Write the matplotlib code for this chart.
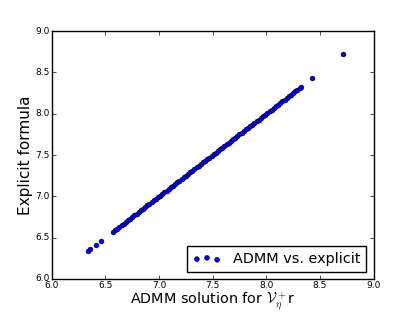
import matplotlib
matplotlib.use('Agg')
import matplotlib.pyplot as plt
import numpy as np

# values (points lie on y = x)
admm_low = [6.34, 6.36, 6.41, 6.46]
admm_dense = [6.57, 6.59, 6.61, 6.63, 6.65, 6.67, 6.69, 6.71, 6.73, 6.75,
              6.77, 6.79, 6.81, 6.83, 6.85, 6.87, 6.89, 6.91, 6.93, 6.95,
              6.97, 6.99, 7.01, 7.03, 7.05, 7.07, 7.09, 7.11, 7.13, 7.15,
              7.17, 7.19, 7.21, 7.23, 7.25, 7.27, 7.29, 7.31, 7.33, 7.35,
              7.37, 7.39, 7.41, 7.43, 7.45, 7.47, 7.49, 7.51, 7.53, 7.55,
              7.57, 7.59, 7.61, 7.63, 7.65, 7.67, 7.69, 7.71, 7.73, 7.75,
              7.77, 7.79, 7.81, 7.83, 7.85, 7.87, 7.89, 7.91, 7.93, 7.95,
              7.97, 7.99, 8.01, 8.03, 8.05, 8.07, 8.09, 8.11, 8.13, 8.15,
              8.17, 8.19, 8.21, 8.23, 8.25, 8.27, 8.29, 8.31, 8.32]
admm_high = [8.43, 8.72]
admm = np.array(admm_low + admm_dense + admm_high)
explicit = admm.copy()

plt.style.use('classic')
fig = plt.figure(figsize=(4.15, 3.12), dpi=100)
ax = fig.add_subplot(1, 1, 1)
fig.subplots_adjust(left=0.125, right=0.9, bottom=0.106, top=0.9)

ax.scatter(admm, explicit, s=12, c='b', edgecolors='k', linewidths=0.4,
           label='ADMM vs. explicit')

ax.set_xlim(6.0, 9.0)
ax.set_ylim(6.0, 9.0)
ax.set_xticks(np.arange(6.0, 9.01, 0.5))
ax.set_yticks(np.arange(6.0, 9.01, 0.5))
ax.tick_params(labelsize=6.5, length=3, pad=1.5)
ax.set_xlabel(r'ADMM solution for $\mathcal{V}_\eta^+$r', fontsize=10.4, labelpad=0)
ax.set_ylabel('Explicit formula', fontsize=11, labelpad=2)
ax.legend(loc='lower right', fontsize=10.4, scatterpoints=3,
          borderaxespad=0.5)

fig.savefig('out.png', dpi=100)
